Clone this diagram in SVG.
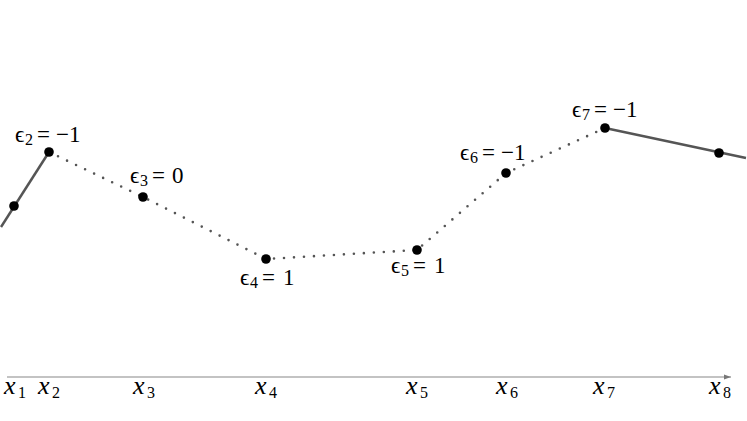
<svg xmlns="http://www.w3.org/2000/svg" width="747" height="421" viewBox="0 0 747 421">
<style>
.solid{stroke:#555;stroke-width:2.5;fill:none}
.dot{stroke:#555;stroke-width:2.6;fill:none;stroke-dasharray:0 10;stroke-linecap:round}
.pt{fill:#000}
</style>
<defs>
<marker id="arr" markerWidth="8" markerHeight="6" refX="7" refY="3" orient="auto" markerUnits="userSpaceOnUse">
<path d="M0,0.5 L7,3 L0,5.5 Z" fill="#777"/>
</marker>
</defs>
<rect width="747" height="421" fill="#fff"/>
<g id="connectors">
<line class="solid" x1="1" y1="227" x2="49" y2="152"/>
<line class="solid" x1="605" y1="128" x2="746" y2="158"/>
<polyline class="dot" points="49,152 143,197 266,259 417,250 506,173 605,128"/>
<line x1="7" y1="377" x2="731" y2="377" stroke="#888" stroke-width="1.2" marker-end="url(#arr)"/>
</g>
<g id="p1"><circle class="pt" cx="14" cy="206" r="4.8"/></g>
<g id="p2"><circle class="pt" cx="49" cy="152" r="4.8"/><text x="15" y="142" font-family="Liberation Serif" font-size="23">ϵ<tspan x="25" y="145" font-size="16">2</tspan><tspan x="37" y="142">=</tspan><tspan x="56" y="142">−1</tspan></text></g>
<g id="p3"><circle class="pt" cx="143" cy="197" r="4.8"/><text x="130" y="183" font-family="Liberation Serif" font-size="23">ϵ<tspan x="140" y="186" font-size="16">3</tspan><tspan x="152" y="183">=</tspan><tspan x="172" y="183">0</tspan></text></g>
<g id="p4"><circle class="pt" cx="266" cy="259" r="4.8"/><text x="240" y="285" font-family="Liberation Serif" font-size="23">ϵ<tspan x="250" y="288" font-size="16">4</tspan><tspan x="262" y="285">=</tspan><tspan x="283" y="285">1</tspan></text></g>
<g id="p5"><circle class="pt" cx="417" cy="250" r="4.8"/><text x="391" y="273" font-family="Liberation Serif" font-size="23">ϵ<tspan x="401" y="276" font-size="16">5</tspan><tspan x="413" y="273">=</tspan><tspan x="434" y="273">1</tspan></text></g>
<g id="p6"><circle class="pt" cx="506" cy="173" r="4.8"/><text x="460" y="160" font-family="Liberation Serif" font-size="23">ϵ<tspan x="470" y="163" font-size="16">6</tspan><tspan x="482" y="160">=</tspan><tspan x="501" y="160">−1</tspan></text></g>
<g id="p7"><circle class="pt" cx="605" cy="128" r="4.8"/><text x="572" y="117" font-family="Liberation Serif" font-size="23">ϵ<tspan x="582" y="120" font-size="16">7</tspan><tspan x="594" y="117">=</tspan><tspan x="613" y="117">−1</tspan></text></g>
<g id="p8"><circle class="pt" cx="719" cy="153" r="4.8"/></g>
<g id="axis-labels">
<text x="4" y="394" font-family="Liberation Serif" font-size="26" font-style="italic">x<tspan x="18" y="398" font-size="16" font-style="normal">1</tspan></text>
<text x="38" y="394" font-family="Liberation Serif" font-size="26" font-style="italic">x<tspan x="52" y="398" font-size="16" font-style="normal">2</tspan></text>
<text x="133" y="394" font-family="Liberation Serif" font-size="26" font-style="italic">x<tspan x="147" y="398" font-size="16" font-style="normal">3</tspan></text>
<text x="255" y="394" font-family="Liberation Serif" font-size="26" font-style="italic">x<tspan x="269" y="398" font-size="16" font-style="normal">4</tspan></text>
<text x="406" y="394" font-family="Liberation Serif" font-size="26" font-style="italic">x<tspan x="420" y="398" font-size="16" font-style="normal">5</tspan></text>
<text x="496" y="394" font-family="Liberation Serif" font-size="26" font-style="italic">x<tspan x="510" y="398" font-size="16" font-style="normal">6</tspan></text>
<text x="593" y="394" font-family="Liberation Serif" font-size="26" font-style="italic">x<tspan x="607" y="398" font-size="16" font-style="normal">7</tspan></text>
<text x="709" y="394" font-family="Liberation Serif" font-size="26" font-style="italic">x<tspan x="723" y="398" font-size="16" font-style="normal">8</tspan></text>
</g>
</svg>
